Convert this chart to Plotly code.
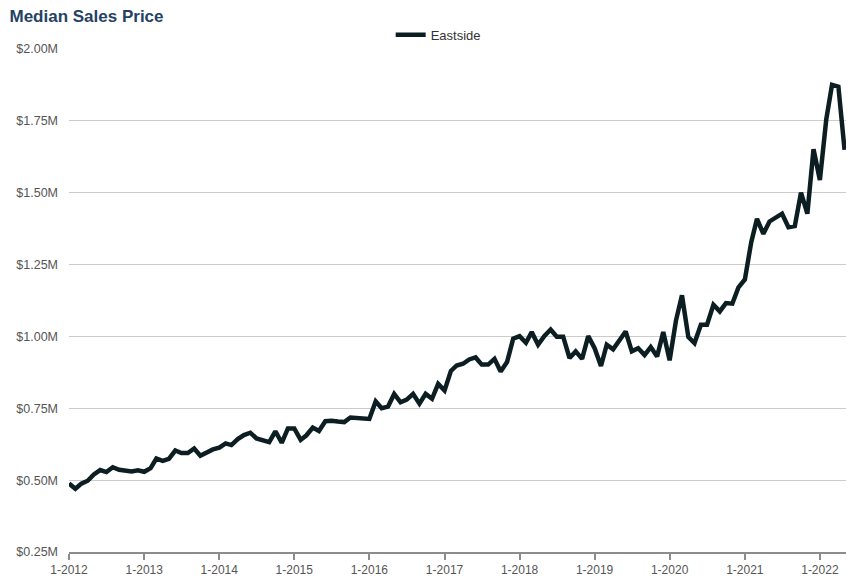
import pandas as pd
import plotly.graph_objects as go

# Monthly median sales price (millions USD), Jan 2012 – May 2022
start_month = "2012-01-01"
eastside = [
    0.488, 0.470, 0.488, 0.498, 0.520, 0.535, 0.528, 0.545, 0.536, 0.533, 0.530, 0.534,  # 2012
    0.529, 0.542, 0.575, 0.567, 0.574, 0.603, 0.594, 0.594, 0.610, 0.585, 0.598, 0.607,  # 2013
    0.613, 0.628, 0.622, 0.643, 0.657, 0.665, 0.645, 0.640, 0.632, 0.670, 0.630, 0.680,  # 2014
    0.680, 0.640, 0.656, 0.683, 0.671, 0.705, 0.707, 0.704, 0.702, 0.718, 0.716, 0.713,  # 2015
    0.713, 0.774, 0.750, 0.756, 0.800, 0.771, 0.780, 0.800, 0.766, 0.800, 0.783, 0.835,  # 2016
    0.812, 0.880, 0.899, 0.905, 0.920, 0.927, 0.902, 0.902, 0.922, 0.878, 0.911, 0.992,  # 2017
    1.001, 0.978, 1.015, 0.971, 1.001, 1.024, 0.999, 0.999, 0.925, 0.948, 0.922, 1.001,  # 2018
    0.959, 0.897, 0.971, 0.955, 0.983, 1.017, 0.948, 0.959, 0.935, 0.963, 0.930, 1.015,  # 2019
    0.917, 1.056, 1.143, 0.998, 0.977, 1.041, 1.041, 1.110, 1.087, 1.116, 1.114, 1.171,  # 2020
    1.198, 1.328, 1.409, 1.357, 1.400, 1.412, 1.427, 1.380, 1.384, 1.500, 1.427, 1.651,  # 2021
    1.544, 1.755, 1.875, 1.869, 1.649,                                                   # 2022
]
months = pd.date_range(start_month, periods=len(eastside), freq="MS")

y_ticks = [0.25, 0.50, 0.75, 1.00, 1.25, 1.50, 1.75, 2.00]
y_tick_labels = ["$0.25M", "$0.50M", "$0.75M", "$1.00M", "$1.25M", "$1.50M", "$1.75M", "$2.00M"]
x_tick_dates = [f"{y}-01-01" for y in range(2012, 2023)]
x_tick_labels = [f"1-{y}" for y in range(2012, 2023)]

font_family = "Liberation Sans, Arial, Helvetica, sans-serif"

fig = go.Figure()
fig.add_trace(go.Scatter(
    x=months, y=eastside, mode="lines", name="Eastside",
    line=dict(color="#0c1e21", width=4.5),
))

fig.update_layout(
    width=864, height=576,
    margin=dict(l=69, r=18, t=49, b=24),
    paper_bgcolor="white", plot_bgcolor="white",
    font=dict(family=font_family, color="#555555", size=13),
    title=dict(text="<b>Median Sales Price</b>", x=0.011, xanchor="left",
               y=0.972, yanchor="middle",
               font=dict(size=17, color="#244264", family=font_family)),
    showlegend=True,
    legend=dict(orientation="h", x=0.414, xanchor="left", y=1.028, yanchor="middle",
                font=dict(size=13, color="#333333"), bgcolor="rgba(0,0,0,0)"),
)
fig.update_xaxes(
    range=["2012-01-01", "2022-05-08"], automargin=False,
    tickmode="array", tickvals=x_tick_dates, ticktext=x_tick_labels,
    showgrid=False, showline=True, linecolor="#8c8c8c", linewidth=2,
    ticks="outside", ticklen=6, tickcolor="#8c8c8c", tickwidth=2,
    tickfont=dict(size=12, color="#555555"), zeroline=False,
)
fig.update_yaxes(
    range=[0.25, 2.0], automargin=False,
    tickmode="array", tickvals=y_ticks, ticktext=y_tick_labels,
    showgrid=True, gridcolor="#cccccc", gridwidth=1,
    showline=False, zeroline=False, ticks="", ticklabelstandoff=10,
    tickfont=dict(size=12.5, color="#555555"),
)

fig.write_html("out.html", config={"displayModeBar": False},
               post_script="document.body.style.margin='0';")
